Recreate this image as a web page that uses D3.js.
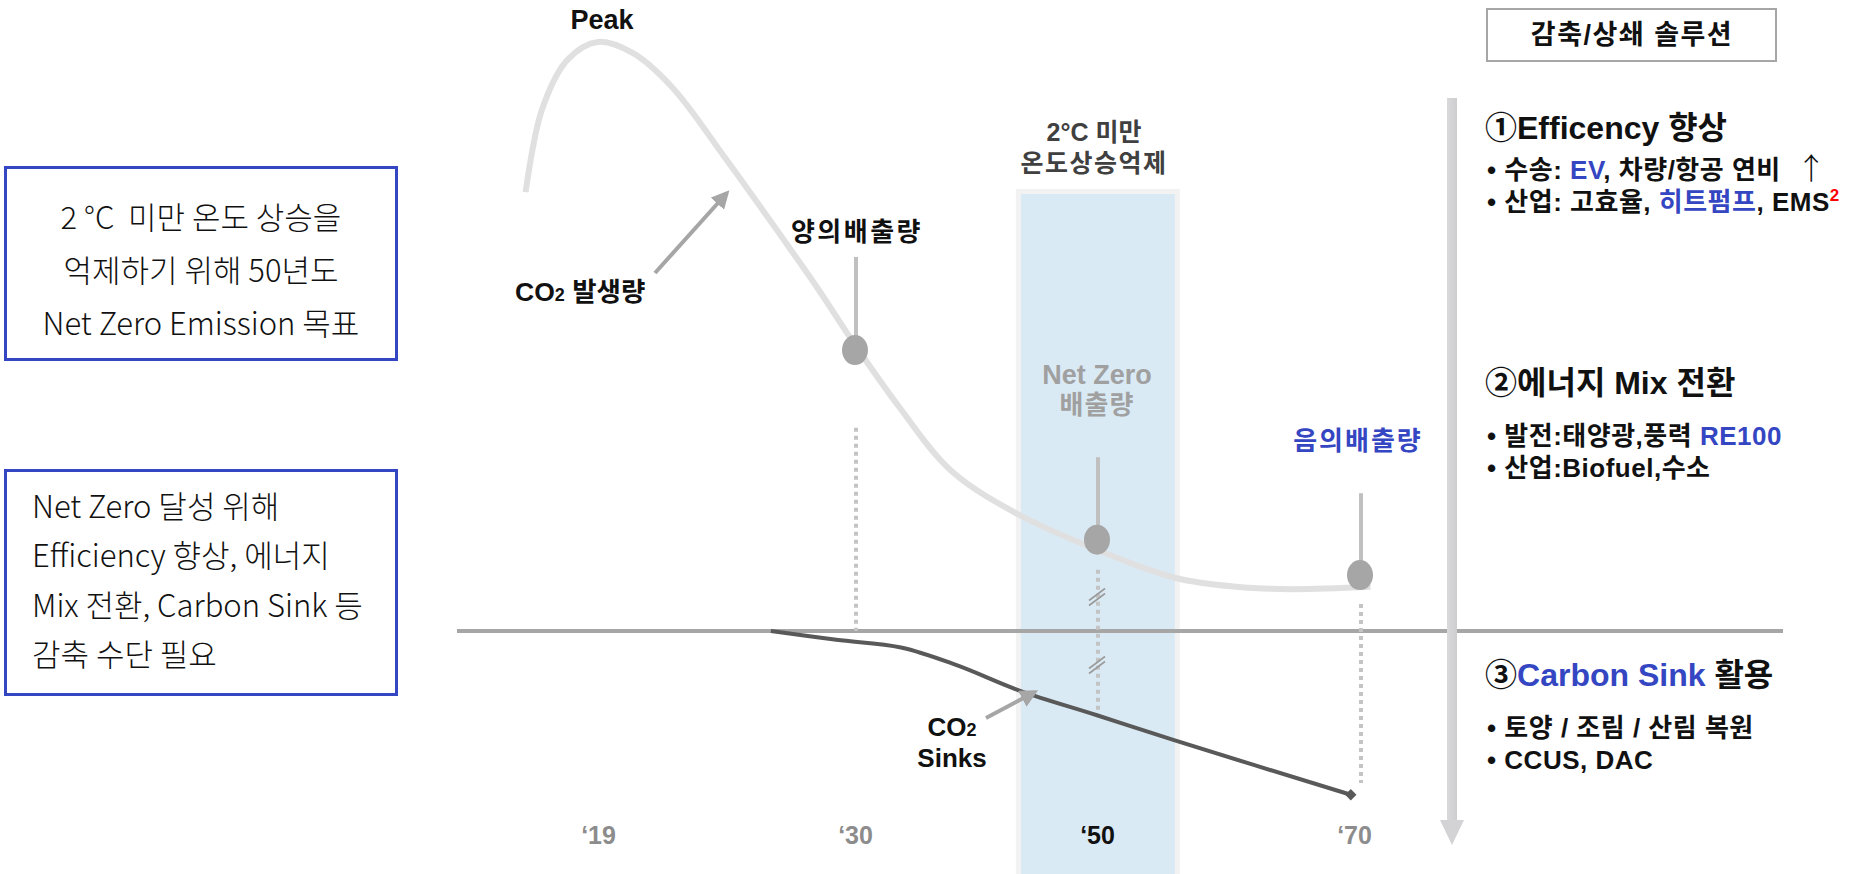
<!DOCTYPE html>
<html><head><meta charset="utf-8">
<script src="https://cdn.jsdelivr.net/npm/d3@7"></script>
<style>
body{margin:0;background:#fff;}
svg{display:block;font-family:"Liberation Sans","Noto Sans CJK KR",sans-serif;}
</style></head><body>
<svg id="c" width="1875" height="874"></svg>
<script>
// ---- data ----
const tickYears = [2019, 2030, 2050, 2070];
const tickLabels = ["\u201819", "\u201830", "\u201850", "\u201870"];
const emissionYears = [2015.9, 2016.6, 2017.7, 2019, 2020.5, 2022.2, 2024.5, 2026.9, 2028.4, 2030, 2033.7, 2037.9, 2043.4, 2050, 2056, 2060.6, 2064.8, 2070.8];
const emissionValues = [74.5, 88.5, 97, 100, 98.1, 92.2, 80, 66.7, 58.2, 48.6, 37.9, 27.3, 19.9, 13.8, 9.0, 7.5, 7.1, 7.5];
const sinkYears = [2026.4, 2029.2, 2033.8, 2038.4, 2043.7, 2050, 2055.8, 2069.3];
const sinkValues = [0, -1.5, -2.8, -5.8, -10.2, -14.3, -18.5, -27.8];
const markerYears = [2030, 2050, 2070];
const markerValues = [47.7, 15.5, 9.5];
const bandYears = [2043.3, 2056.3];

const box1Lines = ["2 °C  미만 온도 상승을", "억제하기 위해 50년도", "Net Zero Emission 목표"];
const box2Lines = ["Net Zero 달성 위해", "Efficiency 향상, 에너지", "Mix 전환, Carbon Sink 등", "감축 수단 필요"];

// ---- scales ----
const x = d3.scaleLinear().domain(tickYears).range([598, 855, 1097, 1360]);
const y = d3.scaleLinear().domain([0, 100]).range([631, 42]);

const svg = d3.select("#c");
const BLUE = "#3446c2";
const defs = svg.append("defs");
defs.append("marker").attr("id", "ah").attr("viewBox", "0 0 10 10").attr("refX", 8).attr("refY", 5)
  .attr("markerWidth", 4.5).attr("markerHeight", 4.5).attr("orient", "auto-start-reverse").attr("markerUnits", "strokeWidth")
  .append("path").attr("d", "M0,0 L10,5 L0,10 z").attr("fill", "#a6a6a6");
const grad = defs.append("linearGradient").attr("id", "barg").attr("x1", 0).attr("x2", 1);
grad.append("stop").attr("offset", 0).attr("stop-color", "#d9d9db");
grad.append("stop").attr("offset", 1).attr("stop-color", "#cdcdd0");

// ---- band ----
const bx0 = x(bandYears[0]), bx1 = x(bandYears[1]);
svg.append("rect").attr("x", bx0).attr("y", 189).attr("width", bx1 - bx0).attr("height", 700).attr("fill", "#f2f2f2");
svg.append("rect").attr("x", bx0 + 5).attr("y", 194).attr("width", bx1 - bx0 - 10).attr("height", 700).attr("fill", "#daeaf5");

// ---- baseline ----
svg.append("line").attr("x1", 457).attr("x2", 1783).attr("y1", y(0)).attr("y2", y(0))
  .attr("stroke", "#a6a6a6").attr("stroke-width", 4);

// ---- dotted verticals ----
const dotted = [[2030, 34.5, 0], [2050, 10.4, -13.4], [2070, 4.6, -25.8]];
svg.selectAll(".dot").data(dotted).join("line")
  .attr("x1", d => x(d[0]) + 1).attr("x2", d => x(d[0]) + 1)
  .attr("y1", d => y(d[1])).attr("y2", d => y(d[2]))
  .attr("stroke", "#c4c4c4").attr("stroke-width", 4).attr("stroke-dasharray", "4,4");

// break marks on '50
[597, 665].forEach(yy => {
  [-2.5, 2.5].forEach(o => {
    svg.append("line").attr("x1", x(2050) - 8).attr("y1", yy + 6 + o).attr("x2", x(2050) + 8).attr("y2", yy - 6 + o)
      .attr("stroke", "#9a9a9a").attr("stroke-width", 1.6);
  });
});

// ---- curves ----
const line = d3.line().x(d => x(d[0])).y(d => y(d[1])).curve(d3.curveCatmullRom.alpha(0.5));
svg.append("path").attr("d", line(emissionYears.map((yr, i) => [yr, emissionValues[i]])))
  .attr("fill", "none").attr("stroke", "#e0e0e0").attr("stroke-width", 6);
svg.append("path").attr("d", line(sinkYears.map((yr, i) => [yr, sinkValues[i]])))
  .attr("fill", "none").attr("stroke", "#595959").attr("stroke-width", 4);
const ex = x(sinkYears[sinkYears.length - 1]), ey = y(sinkValues[sinkValues.length - 1]);
svg.append("rect").attr("x", ex - 4).attr("y", ey - 4).attr("width", 8).attr("height", 8)
  .attr("transform", `rotate(45,${ex},${ey})`).attr("fill", "#595959");

// ---- stems & markers ----
const stemTop = [63.5, 29.5, 23.4];
svg.selectAll(".stem").data(markerYears).join("line")
  .attr("x1", d => x(d) + 1).attr("x2", d => x(d) + 1)
  .attr("y1", (d, i) => y(stemTop[i])).attr("y2", (d, i) => y(markerValues[i]))
  .attr("stroke", "#c0c0c0").attr("stroke-width", 4);
svg.selectAll(".mk").data(markerYears).join("ellipse")
  .attr("cx", d => x(d)).attr("cy", (d, i) => y(markerValues[i]))
  .attr("rx", 13).attr("ry", 15).attr("fill", "#a6a6a6");

// ---- arrows ----
svg.append("line").attr("x1", 655).attr("y1", 273).attr("x2", 727).attr("y2", 193)
  .attr("stroke", "#a6a6a6").attr("stroke-width", 4).attr("marker-end", "url(#ah)");
svg.append("line").attr("x1", 986).attr("y1", 718).attr("x2", 1035).attr("y2", 692)
  .attr("stroke", "#a6a6a6").attr("stroke-width", 4).attr("marker-end", "url(#ah)");

// ---- axis labels ----
const ax = svg.append("g").attr("transform", "translate(0,835)")
  .call(d3.axisBottom(x).tickValues(tickYears).tickFormat((d, i) => tickLabels[i]).tickSize(0).tickPadding(0));
ax.select(".domain").remove();
ax.selectAll("text").attr("y", 0).attr("dy", "0.35em").attr("dx", (d, i) => i === 3 ? -6 : 0)
  .attr("font-family", "Liberation Sans, Noto Sans, sans-serif").attr("font-size", 25).attr("font-weight", "bold")
  .attr("fill", (d, i) => i === 2 ? "#111" : "#8c8c8c");

// ---- chart labels ----
function txt(t, xx, yy, opts = {}) {
  const e = svg.append("text").attr("x", xx).attr("y", yy).attr("dy", "0.35em")
    .attr("text-anchor", opts.anchor || "middle").attr("font-size", opts.size || 24)
    .attr("font-weight", opts.weight || "bold").attr("fill", opts.fill || "#111");
  if (opts.ls) e.attr("letter-spacing", opts.ls);
  if (opts.family) e.attr("font-family", opts.family);
  e.text(t);
  return e;
}
txt("Peak", 602, 20, {size: 27});
const co2 = svg.append("text").attr("x", 515).attr("y", 292).attr("dy", "0.35em").attr("font-size", 26.5).attr("font-weight", "bold").attr("fill", "#111");
co2.append("tspan").text("CO");
co2.append("tspan").attr("font-size", 18).text("2");
co2.append("tspan").text(" 발생량");
txt("양의배출량", x(2030) + 2, 232, {size: 26, ls: 2.5});
txt("2°C 미만", x(2050) - 3, 132, {size: 25, fill: "#404040"});
txt("온도상승억제", x(2050) - 3, 163, {size: 25, fill: "#404040", ls: 1.5});
txt("Net Zero", x(2050), 375, {size: 27, fill: "#a0a0a0"});
txt("배출량", x(2050), 405, {size: 26, fill: "#a0a0a0", ls: 1});
txt("음의배출량", x(2070) - 2, 441, {size: 26, fill: BLUE, ls: 2});
const sk = svg.append("text").attr("x", 952).attr("y", 727).attr("dy", "0.35em").attr("text-anchor", "middle").attr("font-size", 26).attr("font-weight", "bold").attr("fill", "#111");
sk.append("tspan").text("CO");
sk.append("tspan").attr("font-size", 18).text("2");
txt("Sinks", 952, 758, {size: 26});

// ---- left boxes ----
const LF = "Noto Sans CJK KR, sans-serif";
svg.append("rect").attr("x", 5.5).attr("y", 167.5).attr("width", 391).attr("height", 192).attr("fill", "none").attr("stroke", BLUE).attr("stroke-width", 3);
box1Lines.forEach((t, i) => txt(t, 201, 218 + i * 53, {size: 31, weight: 300, family: LF}).style("white-space", "pre"));
svg.append("rect").attr("x", 5.5).attr("y", 470.5).attr("width", 391).attr("height", 224).attr("fill", "none").attr("stroke", BLUE).attr("stroke-width", 3);
box2Lines.forEach((t, i) => txt(t, 32, 507 + i * 49.5, {size: 31, weight: 300, family: LF, anchor: "start"}));

// ---- right vertical arrow ----
svg.append("rect").attr("x", 1447).attr("y", 98).attr("width", 10).attr("height", 725).attr("fill", "url(#barg)");
svg.append("path").attr("d", "M1440,820 L1464,820 L1452,845 Z").attr("fill", "#d3d3d5");

// ---- right column ----
const RF = "Liberation Sans, Noto Sans CJK KR, sans-serif";
svg.append("rect").attr("x", 1487).attr("y", 9).attr("width", 289).attr("height", 52).attr("fill", "#fff").attr("stroke", "#a6a6a6").attr("stroke-width", 2);
txt("감축/상쇄 솔루션", 1632, 35, {size: 27, family: RF, ls: 1.5});

function rich(parts, xx, yy, size, ls) {
  const t = svg.append("text").attr("x", xx).attr("y", yy).attr("dy", "0.35em").attr("font-family", RF).attr("font-size", size).attr("font-weight", "bold").attr("fill", "#111").style("white-space", "pre");
  if (ls) t.attr("letter-spacing", ls);
  parts.forEach(p => {
    const s = t.append("tspan").text(p[0]);
    if (p[1]) s.attr("fill", p[1]);
    if (p[2]) s.attr("font-size", p[2]).attr("dy", p[3] || 0);
  });
  return t;
}
rich([["①Efficency 향상"]], 1485, 128, 32);
const l1 = rich([["• 수송: "], ["EV", BLUE], [", 차량/항공 연비  "]], 1487, 170, 26, 0.5);
l1.append("tspan").attr("font-family", "Noto Sans CJK KR, sans-serif").attr("font-weight", 300).attr("font-size", 30).text("↑");
rich([["• 산업: 고효율, "], ["히트펌프", BLUE], [", EMS"], ["2", "#ff0000", 17, -10]], 1487, 202, 26, 0.5);
rich([["②에너지 Mix 전환"]], 1485, 383, 32);
rich([["• 발전:태양광,풍력 "], ["RE100", BLUE]], 1487, 436, 26, 0.5);
rich([["• 산업:Biofuel,수소"]], 1487, 468, 26, 0.5);
rich([["③"], ["Carbon Sink", BLUE], [" 활용"]], 1485, 675, 32);
rich([["• 토양 / 조림 / 산림 복원"]], 1487, 728, 26, 0.5);
rich([["• CCUS, DAC"]], 1487, 760, 26, 0.5);
</script>
</body></html>
